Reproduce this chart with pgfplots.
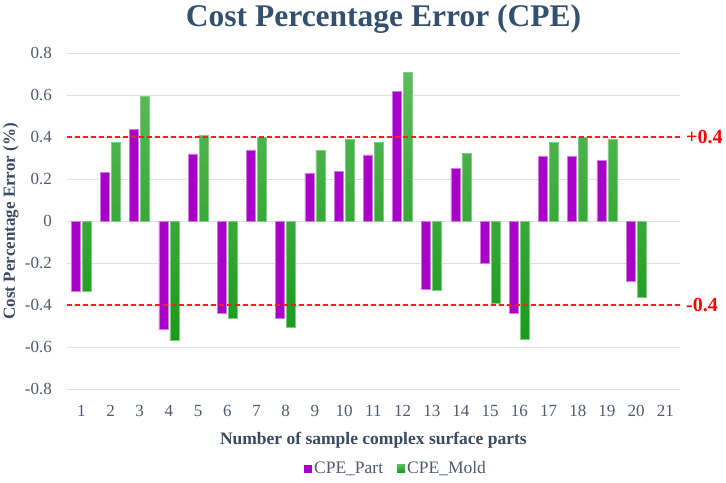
\documentclass[border=0pt]{standalone}
\usepackage{pgfplots}
\pgfplotsset{compat=1.18}
\usepackage{pgfplotstable}
\usepackage{fontspec}
\setmainfont{Liberation Serif}
\usetikzlibrary{calc}
\definecolor{partc}{HTML}{A800C8}
\definecolor{partedge}{HTML}{D07BE0}
\definecolor{moldtop}{HTML}{5DBB5D}
\definecolor{moldbot}{HTML}{1A9A1A}
\definecolor{moldedge}{HTML}{80CC80}
\definecolor{titlec}{HTML}{34506F}
\definecolor{labc}{HTML}{3A4A63}
\definecolor{tickc}{HTML}{4F5B6E}
\definecolor{gridc}{HTML}{DCE0E6}
\definecolor{redl}{RGB}{255,30,30}
\pgfplotstableread{
x part mold
1 -0.335 -0.335
2 0.234 0.375
3 0.438 0.594
4 -0.513 -0.568
5 0.321 0.411
6 -0.437 -0.464
7 0.340 0.399
8 -0.464 -0.503
9 0.229 0.338
10 0.239 0.389
11 0.316 0.375
12 0.617 0.709
13 -0.323 -0.330
14 0.253 0.324
15 -0.199 -0.389
16 -0.437 -0.563
17 0.311 0.375
18 0.311 0.399
19 0.289 0.392
20 -0.286 -0.362
}\cpedata
\pgfplotstableread{
x up low
0.5 0.4 -0.4
21.5 0.4 -0.4
}\limits
\begin{document}
\begin{tikzpicture}
\begin{axis}[
  name=cpe,
  scale only axis, width=613.3pt, height=336pt,
  xmin=0.5, xmax=21.5, ymin=-0.8, ymax=0.8,
  clip=false,
  axis line style={draw=none},
  major tick length=0pt,
  ymajorgrids, grid style={gridc, line width=1.2pt},
  xtick={1,2,3,4,5,6,7,8,9,10,11,12,13,14,15,16,17,18,19,20,21},
  xticklabels={1,2,3,4,5,6,7,8,9,10,11,12,13,14,15,16,17,18,19,20,21},
  ytick={-0.8,-0.6,-0.4,-0.2,0,0.2,0.4,0.6,0.8},
  yticklabels={-0.8,-0.6,-0.4,-0.2,0,0.2,0.4,0.6,0.8},
  ticklabel style={font=\fontsize{17}{20}\selectfont, text=tickc, inner sep=0pt},
  yticklabel style={anchor=east, xshift=-14.7pt},
  xticklabel style={anchor=north, yshift=-16pt},
  every axis title shift=0pt,
  title={Cost Percentage Error (CPE)},
  title style={at={(axis description cs:0.5166,1.079)}, anchor=base, font=\bfseries\fontsize{31.5}{36}\selectfont, text=titlec, inner sep=0pt},
  xlabel={Number of sample complex surface parts},
  xlabel style={at={(axis description cs:0.5,-0.163)}, anchor=base, font=\bfseries\fontsize{17.5}{21}\selectfont, text=labc, inner sep=0pt},
  ylabel={Cost Percentage Error (\%)},
  ylabel style={at={(axis description cs:-0.0843,0.5)}, anchor=base, rotate=0, font=\bfseries\fontsize{17}{20}\selectfont, text=labc, inner sep=0pt},
  legend columns=2,
  legend style={at={(axis description cs:0.537,-0.236)}, anchor=center, draw=none, fill=none,
    font=\fontsize{17.5}{21}\selectfont, text=tickc,
    /tikz/every even column/.append style={column sep=12pt},
    nodes={inner sep=2pt}},
  mysq/.style={legend image code/.code={\path[##1, draw=none] (0pt,-4pt) rectangle (8pt,4pt);}},
]
\addplot[ybar, bar width=9pt, bar shift=-5.5pt, fill=partc, draw=partedge, line width=0.6pt, mysq] table[x=x,y=part]{\cpedata};
\addlegendentry{CPE\_Part}
\addplot[ybar, bar width=9pt, bar shift=5.5pt, top color=moldtop, bottom color=moldbot, draw=moldedge, line width=0.6pt, mysq] table[x=x,y=mold]{\cpedata};
\addlegendentry{CPE\_Mold}
\addplot[draw=redl, line width=1.6pt, dash pattern=on 5pt off 3pt, mark=none, forget plot] table[x=x,y=up]{\limits};
\addplot[draw=redl, line width=1.6pt, dash pattern=on 5pt off 3pt, mark=none, forget plot] table[x=x,y=low]{\limits};
\node[anchor=west, inner sep=0pt, xshift=6pt, text=red, font=\bfseries\fontsize{20}{24}\selectfont] at (axis cs:21.5,0.4) {+0.4};
\node[anchor=west, inner sep=0pt, xshift=6pt, text=red, font=\bfseries\fontsize{20}{24}\selectfont] at (axis cs:21.5,-0.4) {-0.4};
\end{axis}
\pgfresetboundingbox
\path[use as bounding box] ($(cpe.south west)+(-66.7pt,-93.7pt)$) rectangle ($(cpe.north east)+(46pt,53.3pt)$);
\end{tikzpicture}
\end{document}
